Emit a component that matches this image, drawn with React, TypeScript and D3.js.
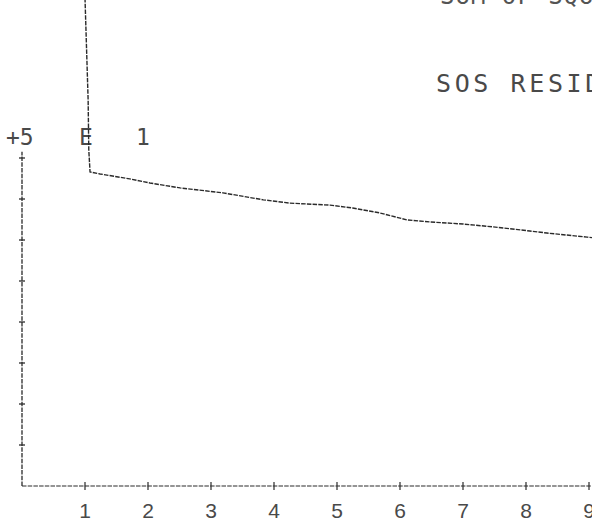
import React from "react";
import * as d3 from "d3";

// Residual sum of squares per iteration, plotted in units of 1E+5
const iterX = [1.0, 1.05, 1.06, 1.08, 1.24, 1.71, 2.03, 2.51, 3.19, 3.83, 4.25, 4.89, 5.25, 5.68, 6.11, 6.48, 7.0, 7.48, 8.06, 8.33, 8.97, 9.1];
const sosResid = [11.9, 9.4, 8.2, 7.66, 7.61, 7.49, 7.39, 7.27, 7.15, 6.98, 6.9, 6.85, 6.78, 6.66, 6.49, 6.44, 6.39, 6.32, 6.22, 6.17, 6.07, 6.05];

const xTicks = [1, 2, 3, 4, 5, 6, 7, 8, 9];
const xTickLabels = ["1", "2", "3", "4", "5", "6", "7", "8", "9"];
const yTicks = [1, 2, 3, 4, 5, 6, 7, 8];
const scaleLabel = ["+5", "E", "1"];

const W = 592;
const H = 524;
const INK = "#2a2a2a";
const PEN = "4.5 1.2";

export default function App() {
  const x = d3.scaleLinear().domain([0, 9]).range([22, 589]);
  const y = d3.scaleLinear().domain([0, 8]).range([486, 158]);

  const pts: [number, number][] = iterX.map((v, i) => [v, sosResid[i]]);
  const line = d3
    .line<[number, number]>()
    .x((d) => x(d[0]))
    .y((d) => y(d[1]));

  const mono = "'DejaVu Sans Mono', monospace";

  return (
    <svg
      width={W}
      height={H}
      viewBox={`0 0 ${W} ${H}`}
      style={{ position: "absolute", left: 0, top: 0, background: "#fff" }}
    >
      {/* title lines at the top right */}
      <text
        x={440}
        y={4}
        fill={INK}
        fontFamily={mono}
        fontSize={24}
        letterSpacing={1}
        opacity={0.8}
      >
        SUM OF SQUARES
      </text>
      <text
        x={436}
        y={92}
        fill={INK}
        fontFamily={mono}
        fontSize={25}
        letterSpacing={3.6}
        opacity={0.85}
      >
        SOS RESID
      </text>

      {/* scale factor label */}
      <text x={6} y={145} fill={INK} fontFamily={mono} fontSize={23} opacity={0.85}>
        {scaleLabel[0]}
      </text>
      <text x={79} y={145} fill={INK} fontFamily={mono} fontSize={23} opacity={0.85}>
        {scaleLabel[1]}
      </text>
      <text x={136} y={145} fill={INK} fontFamily={mono} fontSize={23} opacity={0.85}>
        {scaleLabel[2]}
      </text>

      {/* y axis */}
      <line
        x1={x(0)}
        x2={x(0)}
        y1={y(0)}
        y2={y(8.15)}
        stroke={INK}
        strokeWidth={1.3}
        strokeDasharray={PEN}
      />
      {yTicks.map((t) => (
        <line
          key={"yt" + t}
          x1={x(0) - 3}
          x2={x(0) + 3}
          y1={y(t)}
          y2={y(t)}
          stroke={INK}
          strokeWidth={1.3}
        />
      ))}

      {/* x axis */}
      <line
        x1={x(0)}
        x2={W}
        y1={y(0)}
        y2={y(0)}
        stroke={INK}
        strokeWidth={1.2}
        strokeDasharray={PEN}
      />
      {xTicks.map((t, i) => (
        <g key={"xt" + t}>
          <line
            x1={x(t)}
            x2={x(t)}
            y1={y(0) - 4}
            y2={y(0) + 4}
            stroke={INK}
            strokeWidth={1.2}
          />
          <text
            x={x(t)}
            y={518}
            textAnchor="middle"
            fill={INK}
            fontFamily="'Liberation Sans', sans-serif"
            fontSize={21}
            opacity={0.85}
          >
            {xTickLabels[i]}
          </text>
        </g>
      ))}

      {/* residual curve */}
      <path
        d={line(pts) || ""}
        fill="none"
        stroke={INK}
        strokeWidth={1.4}
        strokeDasharray={PEN}
      />
    </svg>
  );
}
